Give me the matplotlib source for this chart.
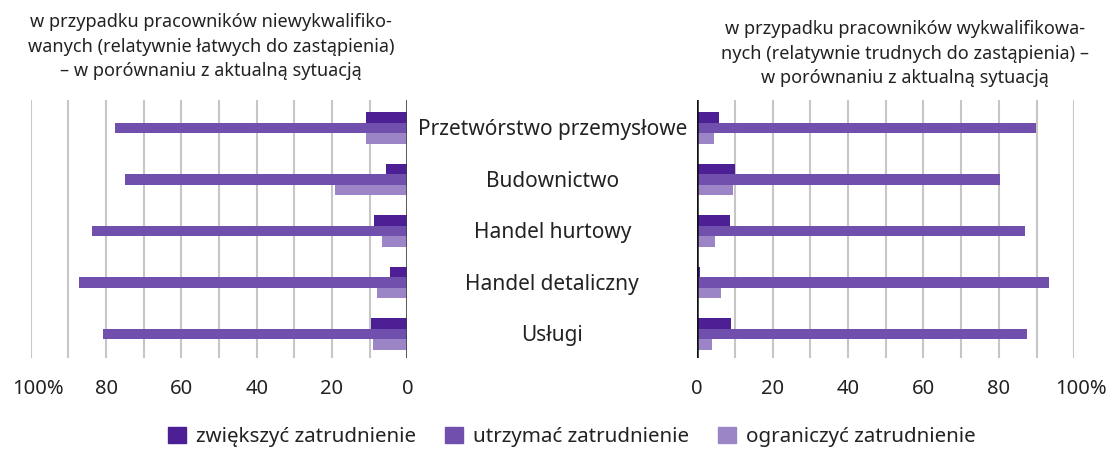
import numpy as np
import matplotlib
matplotlib.use("Agg")
import matplotlib.pyplot as plt
import matplotlib.transforms as mtransforms
from matplotlib.patches import Patch

plt.rcParams['font.family'] = ['Noto Sans', 'DejaVu Sans']

# dane
sektory = ["Przetwórstwo przemysłowe", "Budownictwo", "Handel hurtowy",
           "Handel detaliczny", "Usługi"]
serie = ["zwiększyć zatrudnienie", "utrzymać zatrudnienie", "ograniczyć zatrudnienie"]

# niewykwalifikowani (lewy panel)
niewykw_zwiekszyc = [11.0, 5.7, 8.9, 4.5, 9.7]
niewykw_utrzymac = [77.5, 74.9, 83.8, 87.2, 80.9]
niewykw_ograniczyc = [11.0, 19.1, 6.8, 8.0, 9.1]

# wykwalifikowani (prawy panel)
wykw_zwiekszyc = [5.8, 10.1, 8.6, 0.7, 8.9]
wykw_utrzymac = [89.8, 80.4, 87.0, 93.4, 87.5]
wykw_ograniczyc = [4.4, 9.5, 4.6, 6.4, 3.8]

tyt_lewy = ("w przypadku pracowników niewykwalifiko-\n"
            "wanych (relatywnie łatwych do zastąpienia)\n"
            "– w porównaniu z aktualną sytuacją")
tyt_prawy = ("w przypadku pracowników wykwalifikowa-\n"
             "nych (relatywnie trudnych do zastąpienia) –\n"
             "w porównaniu z aktualną sytuacją")

kolory = ["#4c1f95", "#7150ad", "#9b85c6"]
tekst = "#222222"

fig = plt.figure(figsize=(11.10, 4.49), dpi=100)
ax_l = fig.add_axes([0.0277, 0.2027, 0.3393, 0.5746])
ax_r = fig.add_axes([0.6282, 0.2027, 0.3396, 0.5746])

y = np.arange(len(sektory))
h = 0.207


def rysuj(ax, dane, odwroc, kolor_osi):
    for k, (vals, c) in enumerate(zip(dane, kolory)):
        ax.barh(y + (k - 1) * h, vals, height=h, color=c, zorder=3)
    ax.set_ylim(4.466, -0.544)
    ax.set_xlim(0, 100)
    if odwroc:
        ax.invert_xaxis()
    ax.set_xticks(np.arange(0, 101, 10))
    ax.grid(axis='x', color='#c6c6c6', linewidth=1.5, zorder=0)
    ax.set_yticks([])
    for s in ax.spines.values():
        s.set_visible(False)
    ax.axvline(0, color=kolor_osi, linewidth=1.8, zorder=4)
    ax.tick_params(axis='x', length=0, pad=15, labelsize=14.5, labelcolor=tekst)
    labels = []
    for t in range(0, 101, 10):
        if t == 100:
            labels.append("100%")
        elif t % 20 == 0:
            labels.append(str(t))
        else:
            labels.append("")
    ax.set_xticklabels(labels)
    # "100%" przesunięte lekko w prawo
    lab = ax.get_xticklabels()[-1]
    lab.set_transform(lab.get_transform() +
                      mtransforms.ScaledTranslation(0.07, 0, fig.dpi_scale_trans))


rysuj(ax_l, [niewykw_zwiekszyc, niewykw_utrzymac, niewykw_ograniczyc], True, '#3a3a3a')
rysuj(ax_r, [wykw_zwiekszyc, wykw_utrzymac, wykw_ograniczyc], False, '#111111')

# etykiety sektorów w środku
trans = mtransforms.blended_transform_factory(fig.transFigure, ax_l.transData)
for i, s in enumerate(sektory):
    fig.text(0.4975, i + 0.03, s, transform=trans, ha='center', va='center',
             fontsize=15, color=tekst)

fig.text(0.19, 0.97, tyt_lewy, ha='center', va='top', fontsize=13,
         color=tekst, linespacing=1.45)
fig.text(0.815, 0.955, tyt_prawy, ha='center', va='top', fontsize=13,
         color=tekst, linespacing=1.45)

uchwyty = [Patch(color=c, label=l) for c, l in zip(kolory, serie)]
fig.legend(handles=uchwyty, loc='center', bbox_to_anchor=(0.515, 0.027),
           ncol=3, frameon=False, fontsize=14.8, handlelength=0.87,
           handleheight=0.87, handletextpad=0.5, columnspacing=1.4,
           labelcolor=tekst)

fig.savefig("out.png", dpi=100)
